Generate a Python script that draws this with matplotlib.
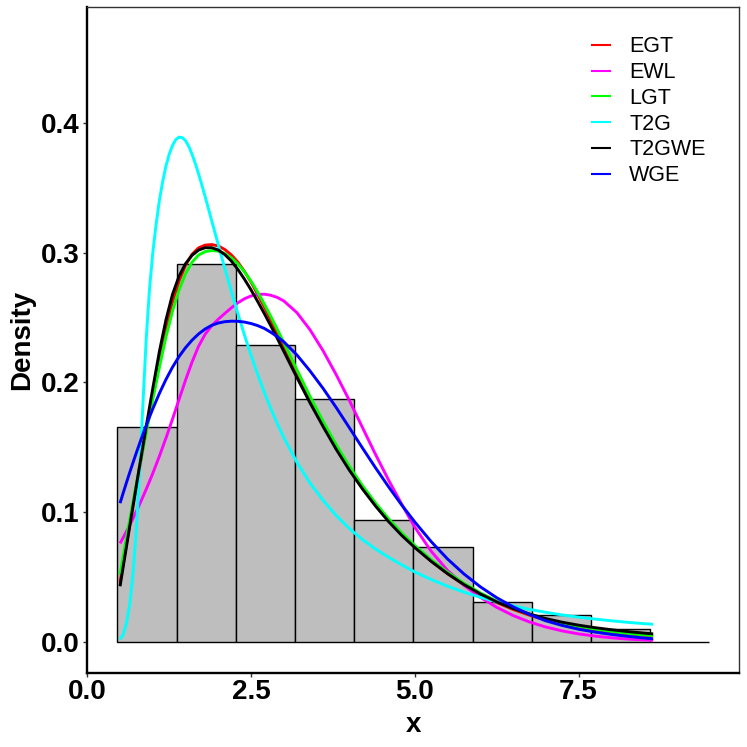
import matplotlib
matplotlib.use("Agg")
import matplotlib.pyplot as plt
import numpy as np

# ---------------- data ----------------
bin_edges = [0.458, 1.362, 2.266, 3.170, 4.074, 4.978, 5.882, 6.786, 7.690, 8.594, 9.498]
bin_density = [0.166, 0.291, 0.229, 0.187, 0.094, 0.073, 0.031, 0.021, 0.010, 0.0]

x_grid = [0.5, 0.55, 0.6, 0.65, 0.7, 0.75, 0.8, 0.85, 0.9, 0.95, 1.0,
          1.1, 1.2, 1.3, 1.4, 1.5, 1.6, 1.7, 1.8, 1.9, 2.0,
          2.1, 2.2, 2.3, 2.4, 2.5, 2.6, 2.7, 2.8, 2.9, 3.0,
          3.2, 3.4, 3.6, 3.8, 4.0, 4.2, 4.4, 4.6, 4.8, 5.0,
          5.25, 5.5, 5.75, 6.0, 6.25, 6.5, 6.75, 7.0, 7.25, 7.5,
          7.75, 8.0, 8.25, 8.5, 8.64]

egt = [0.046, 0.0612, 0.0763, 0.0913, 0.1061, 0.1208, 0.1353, 0.1496, 0.1636, 0.1771, 0.1902,
       0.2172, 0.2415, 0.2620, 0.2782, 0.2903, 0.2988, 0.3037, 0.3058, 0.3062, 0.3052,
       0.3024, 0.2982, 0.2926, 0.2855, 0.2773, 0.2680, 0.2583, 0.2482, 0.2377, 0.2270,
       0.2068, 0.1871, 0.1685, 0.1508, 0.1345, 0.1197, 0.1062, 0.0940, 0.0831, 0.0733,
       0.0624, 0.0527, 0.0442, 0.0368, 0.0305, 0.0252, 0.0207, 0.0170, 0.0140, 0.0115,
       0.0095, 0.0078, 0.0064, 0.0053, 0.0047]

ewl = [0.076, 0.0807, 0.0855, 0.0904, 0.0955, 0.1008, 0.1063, 0.1120, 0.1178, 0.1238, 0.1300,
       0.1431, 0.1570, 0.1716, 0.1868, 0.2018, 0.2158, 0.2280, 0.2372, 0.2437, 0.2487,
       0.2532, 0.2575, 0.2614, 0.2645, 0.2666, 0.2678, 0.2680, 0.2672, 0.2655, 0.2628,
       0.2538, 0.2406, 0.2244, 0.2060, 0.1862, 0.1654, 0.1446, 0.1248, 0.1062, 0.0885,
       0.0700, 0.0552, 0.0438, 0.0345, 0.0268, 0.0205, 0.0155, 0.0116, 0.0086, 0.0063,
       0.0046, 0.0033, 0.0023, 0.0016, 0.0013]

lgt = [0.052, 0.0666, 0.0808, 0.0947, 0.1084, 0.1219, 0.1352, 0.1484, 0.1614, 0.1742, 0.1868,
       0.2115, 0.2348, 0.2548, 0.2712, 0.2838, 0.2927, 0.2982, 0.3008, 0.3016, 0.3012,
       0.2993, 0.2960, 0.2913, 0.2852, 0.2780, 0.2697, 0.2606, 0.2510, 0.2410, 0.2307,
       0.2098, 0.1893, 0.1700, 0.1520, 0.1355, 0.1206, 0.1071, 0.0950, 0.0841, 0.0744,
       0.0635, 0.0538, 0.0453, 0.0379, 0.0316, 0.0262, 0.0216, 0.0178, 0.0147, 0.0121,
       0.0100, 0.0082, 0.0067, 0.0055, 0.0050]

t2gwe = [0.043, 0.0586, 0.0742, 0.0898, 0.1053, 0.1207, 0.1360, 0.1512, 0.1662, 0.1810, 0.1955,
         0.2237, 0.2480, 0.2677, 0.2818, 0.2915, 0.2980, 0.3020, 0.3038, 0.3038, 0.3020,
         0.2985, 0.2935, 0.2870, 0.2795, 0.2713, 0.2625, 0.2533, 0.2438, 0.2340, 0.2240,
         0.2038, 0.1843, 0.1660, 0.1485, 0.1325, 0.1180, 0.1048, 0.0928, 0.0822, 0.0728,
         0.0622, 0.0527, 0.0443, 0.0371, 0.0310, 0.0259, 0.0216, 0.0181, 0.0153, 0.0130,
         0.0111, 0.0095, 0.0081, 0.0069, 0.0063]

wge = [0.107, 0.1152, 0.1232, 0.1310, 0.1386, 0.1460, 0.1532, 0.1602, 0.1669, 0.1734, 0.1797,
       0.1915, 0.2022, 0.2117, 0.2199, 0.2268, 0.2326, 0.2374, 0.2412, 0.2440, 0.2458,
       0.2468, 0.2472, 0.2471, 0.2465, 0.2454, 0.2438, 0.2417, 0.2387, 0.2353, 0.2313,
       0.2212, 0.2089, 0.1954, 0.1807, 0.1652, 0.1496, 0.1343, 0.1196, 0.1056, 0.0925,
       0.0774, 0.0640, 0.0525, 0.0426, 0.0342, 0.0272, 0.0213, 0.0164, 0.0128, 0.0099,
       0.0077, 0.0059, 0.0044, 0.0031, 0.0025]

# T2G has a sharp peak, so it is read at a finer step there
t2g_x = [0.5, 0.55, 0.6, 0.65, 0.7, 0.75, 0.8, 0.85, 0.9, 0.95, 1.0,
         1.05, 1.1, 1.15, 1.2, 1.25, 1.3, 1.35, 1.4, 1.45, 1.5,
         1.55, 1.6, 1.65, 1.7, 1.75, 1.8, 1.9, 2.0,
         2.1, 2.2, 2.3, 2.4, 2.5, 2.6, 2.7, 2.8, 2.9, 3.0,
         3.2, 3.4, 3.6, 3.8, 4.0, 4.2, 4.4, 4.6, 4.8, 5.0,
         5.25, 5.5, 5.75, 6.0, 6.25, 6.5, 6.75, 7.0, 7.25, 7.5,
         7.75, 8.0, 8.25, 8.5, 8.64]
t2g = [0.002, 0.006, 0.015, 0.030, 0.054, 0.088, 0.133, 0.184, 0.234, 0.272, 0.300,
       0.3215, 0.3400, 0.3545, 0.3665, 0.3757, 0.3825, 0.3870, 0.3890, 0.3886, 0.3862,
       0.3818, 0.3757, 0.3685, 0.3605, 0.3519, 0.3430, 0.3245, 0.3060,
       0.2878, 0.2700, 0.2528, 0.2364, 0.2209, 0.2063, 0.1927, 0.1800, 0.1683, 0.1575,
       0.1385, 0.1225, 0.1092, 0.0975, 0.0875, 0.0790, 0.0717, 0.0653, 0.0595, 0.0540,
       0.0482, 0.0430, 0.0385, 0.0345, 0.0310, 0.0279, 0.0252, 0.0229, 0.0209, 0.0192,
       0.0177, 0.0164, 0.0152, 0.0142, 0.0137]

series_names = ["EGT", "EWL", "LGT", "T2G", "T2GWE", "WGE"]
series_x = [x_grid, x_grid, x_grid, t2g_x, x_grid, x_grid]
series_values = [egt, ewl, lgt, t2g, t2gwe, wge]
series_colors = ["#FF0000", "#FF00FF", "#00FF00", "#00FFFF", "#000000", "#0000FF"]

x_ticks = [0.0, 2.5, 5.0, 7.5]
x_tick_labels = ["0.0", "2.5", "5.0", "7.5"]
y_ticks = [0.0, 0.1, 0.2, 0.3, 0.4]
y_tick_labels = ["0.0", "0.1", "0.2", "0.3", "0.4"]

# ---------------- figure ----------------
plt.rcParams['font.family'] = ['Liberation Sans', 'DejaVu Sans']

W = H = 747
fig = plt.figure(figsize=(W / 100, H / 100), dpi=100)
ax = fig.add_axes([87.3 / W, (W - 672.7) / H, (739 - 87.3) / W, (672.7 - 7.3) / H])

edges = np.array(bin_edges)
ax.bar(edges[:-1], bin_density, width=np.diff(edges), align='edge',
       color='#BEBEBE', edgecolor='black', linewidth=1.0, zorder=1)

for name, xs, vals, col in zip(series_names, series_x, series_values, series_colors):
    ax.plot(xs, vals, color=col, lw=2.1, label=name, zorder=2,
            solid_joinstyle='round', solid_capstyle='butt')

ax.set_xlim(0.006, 9.95)
ax.set_ylim(-0.0236, 0.489)

ax.set_xticks(x_ticks)
ax.set_xticklabels(x_tick_labels)
ax.set_yticks(y_ticks)
ax.set_yticklabels(y_tick_labels)
ax.tick_params(axis='both', which='major', length=3.0, width=1.0, color='#333333',
               labelsize=20, labelcolor='black')
ax.tick_params(axis='x', pad=1.5)
ax.tick_params(axis='y', pad=2.4)
for lab in ax.get_xticklabels() + ax.get_yticklabels():
    lab.set_fontweight('bold')

for side in ['left', 'bottom']:
    ax.spines[side].set_linewidth(1.7)
    ax.spines[side].set_color('black')
for side in ['top', 'right']:
    ax.spines[side].set_linewidth(1.0)
    ax.spines[side].set_color('#333333')

ax.set_xlabel('x', fontsize=20, fontweight='bold')
ax.set_ylabel('Density', fontsize=20, fontweight='bold')
ax.xaxis.set_label_coords(0.5, (747 - 725 - 74.3) / 665.4)
ax.xaxis.label.set_va('center')
ax.yaxis.set_label_coords((22 - 87.3) / 651.7, 0.5)
ax.yaxis.label.set_va('center')

leg = ax.legend(loc='upper left', bbox_to_anchor=(590.7 / W, (W - 36.5) / H),
                bbox_transform=fig.transFigure, frameon=False, fontsize=15.5,
                handlelength=0.93, handletextpad=0.85, labelspacing=0.22,
                borderpad=0, borderaxespad=0)
for line in leg.get_lines():
    line.set_linewidth(1.5)

fig.savefig('out.png', dpi=100)
